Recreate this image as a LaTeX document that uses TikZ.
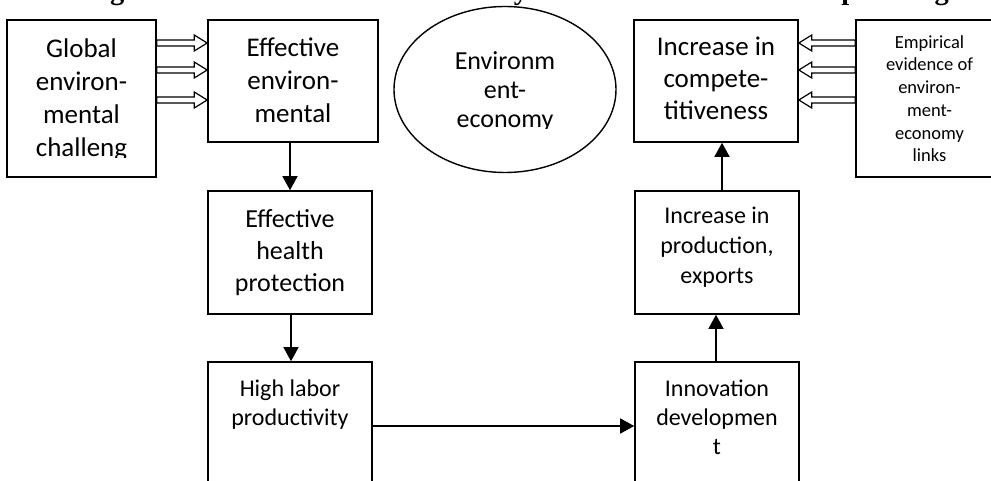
\documentclass[tikz,border=0pt]{standalone}
\usepackage{fontspec}
\setmainfont{Carlito}
\newfontfamily\titlefont{Liberation Serif}
\usetikzlibrary{arrows.meta,calc,shapes.geometric}
\newcommand{\mlines}[1]{\parbox[t]{220pt}{\centering #1}}
\tikzset{
  box/.style={draw, line width=1.6pt, inner sep=0pt, fill=white},
  txt/.style={anchor=base, inner sep=0pt},
  arr/.style={line width=1.4pt, -{Triangle[width=15pt,length=14pt]}},
  blockR/.style={draw, fill=white, line width=1.2pt, to path={
    let \p1=(\tikztostart), \p2=(\tikztotarget) in
    (\x1,\y1+3pt) -- (\x2-13pt,\y1+3pt) -- (\x2-13pt,\y1+8pt) -- (\x2,\y1)
    -- (\x2-13pt,\y1-8pt) -- (\x2-13pt,\y1-3pt) -- (\x1,\y1-3pt) -- cycle}},
  blockL/.style={draw, fill=white, line width=1.2pt, to path={
    let \p1=(\tikztostart), \p2=(\tikztotarget) in
    (\x1,\y1+3pt) -- (\x2+13pt,\y1+3pt) -- (\x2+13pt,\y1+8pt) -- (\x2,\y1)
    -- (\x2+13pt,\y1-8pt) -- (\x2+13pt,\y1-3pt) -- (\x1,\y1-3pt) -- cycle}},
}
\begin{document}
\begin{tikzpicture}[x=1pt,y=-1pt]
\useasboundingbox (0,0) rectangle (991,481);
\fill[white] (0,0) rectangle (991,481);
\clip (0,0) rectangle (991,481);

% title (only its lower part is visible)
\node[anchor=base west, inner sep=0pt, font=\titlefont\bfseries\fontsize{28.4}{30}\selectfont] (title) at (84.8,0)
  {Figure 1. The environment-economy links in substantiation of planning};

% boxes
\node[box, minimum width=149pt, minimum height=157pt] (glob) at (81.5,98.5) {};
\node[box, minimum width=170pt, minimum height=122pt] (env) at (293,81) {};
\node[box, minimum width=164pt, minimum height=123pt] (health) at (290,252.5) {};
\node[box, minimum width=164pt, minimum height=158pt] (labor) at (290,441) {};
\node[box, minimum width=164pt, minimum height=158pt] (innov) at (717,441) {};
\node[box, minimum width=164pt, minimum height=123pt] (prod) at (717,252.5) {};
\node[box, minimum width=164pt, minimum height=122pt] (comp) at (716,81) {};
\node[box, minimum width=147pt, minimum height=157pt] (emp) at (929.5,98.5) {};
\node[ellipse, draw, line width=1.4pt, inner sep=0pt, minimum width=222pt, minimum height=166pt] (ell) at (505,89.5) {};

% texts
\begin{scope}
  \clip (7,20) rectangle (156,158);
  \node[txt, font=\fontsize{27}{33}\selectfont] (globt) at (81.5,57.5) {\mlines{Global\\environ-\\mental\\challeng}};
\end{scope}
\node[txt, font=\fontsize{27}{33}\selectfont] (envt) at (293,57) {\mlines{Effective\\environ-\\mental}};
\node[txt, font=\fontsize{26}{32}\selectfont] (healtht) at (290,227.5) {\mlines{Effective\\health\\protection}};
\node[txt, font=\fontsize{24}{28.5}\selectfont] (labort) at (290,396.5) {\mlines{High labor\\productivity}};
\node[txt, font=\fontsize{24}{29}\selectfont] (innovt) at (717,396.5) {\mlines{Innovation\\developmen\\t}};
\node[txt, font=\fontsize{24}{30}\selectfont] (prodt) at (717,224) {\mlines{Increase in\\production,\\exports}};
\node[txt, font=\fontsize{27}{32}\selectfont] (compt) at (716,56) {\mlines{Increase in\\compete-\\titiveness}};
\node[txt, font=\fontsize{18.5}{22.7}\selectfont] (empt) at (929.5,48.3) {\mlines{Empirical\\evidence of\\environ-\\ment-\\economy\\links}};
\begin{scope}
  \clip (394,0) rectangle (616,128.5);
  \node[txt, font=\fontsize{26}{29}\selectfont] (ellt) at (505,70) {\mlines{Environm\\ent-\\economy}};
\end{scope}

% helper coordinates
\coordinate (a1) at (0,43);
\coordinate (a2) at (0,70);
\coordinate (a3) at (0,100);
\coordinate (v1) at (290,0);
\coordinate (v2) at (291,0);
\coordinate (v3) at (716,0);
\coordinate (v4) at (722,0);
\coordinate (h1) at (0,426);

% block arrows
\draw[blockR] (glob.east |- a1) to (env.west |- a1);
\draw[blockR] (glob.east |- a2) to (env.west |- a2);
\draw[blockR] (glob.east |- a3) to (env.west |- a3);
\draw[blockL] (emp.west |- a1) to (comp.east |- a1);
\draw[blockL] (emp.west |- a2) to (comp.east |- a2);
\draw[blockL] (emp.west |- a3) to (comp.east |- a3);

% flow arrows
\draw[arr] (env.south -| v1) -- (health.north -| v1);
\draw[arr] (health.south -| v2) -- (labor.north -| v2);
\draw[arr] (labor.east |- h1) -- (innov.west |- h1);
\draw[arr] (innov.north -| v3) -- (prod.south -| v3);
\draw[arr] (prod.north -| v4) -- (comp.south -| v4);
\end{tikzpicture}
\end{document}
